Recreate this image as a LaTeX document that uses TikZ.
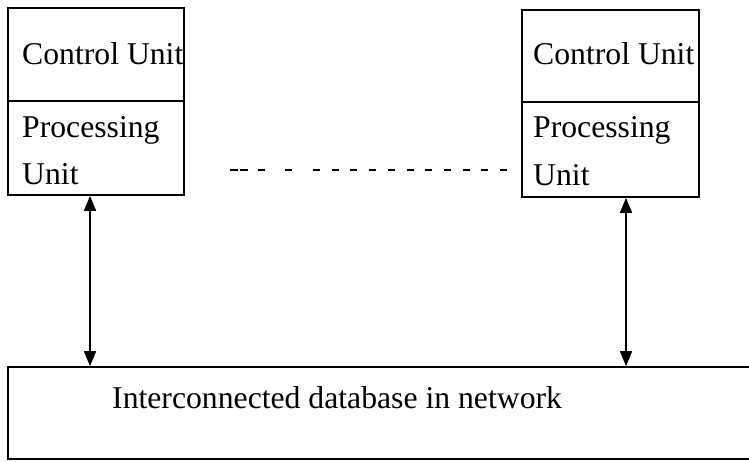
\documentclass[tikz,border=0pt]{standalone}
\usepackage{fontspec}
\setmainfont{Liberation Serif}
\usetikzlibrary{arrows.meta}
\begin{document}
\begin{tikzpicture}[x=1pt,y=-1pt,
  box/.style={draw=black, line width=1.7pt, inner sep=0pt},
  lbl/.style={anchor=base west, inner sep=0pt, font=\fontsize{31.7}{38}\selectfont},
  link/.style={line width=1.7pt, {Triangle[length=15pt,width=12pt]}-{Triangle[length=15pt,width=12pt]}},
  dashline/.style={line width=1.6pt}]
\useasboundingbox (0,0) rectangle (749,461);
% left processor
\node[box, minimum width=176pt, minimum height=93pt] (cu1) at (96,54.5) {};
\node[box, minimum width=176pt, minimum height=94pt] (pu1) at (96,148) {};
\node[lbl] (t1) at (22,64) {Control Unit};
\node[lbl] (t2) at (22,137) {Processing};
\node[lbl] (t3) at (22,184) {Unit};
% right processor
\node[box, minimum width=177pt, minimum height=92pt] (cu2) at (610.5,56) {};
\node[box, minimum width=177pt, minimum height=95pt] (pu2) at (610.5,149.5) {};
\node[lbl] (t4) at (533,64) {Control Unit};
\node[lbl] (t5) at (533,137) {Processing};
\node[lbl] (t6) at (533,185) {Unit};
% database
\node[box, minimum width=760pt, minimum height=92pt] (db) at (388,413) {};
\node[lbl] (t7) at (112,408) {Interconnected database in network};
% arrows
\draw[link] (pu1.south -| 90,0) -- (db.north -| 90,0);
\draw[link] (pu2.south -| 626,0) -- (db.north -| 626,0);
% dashed separator
\coordinate (d0) at (230,170);
\coordinate (d1) at (248,170);
\draw[dashline, dash pattern=on 8pt off 2pt] (d0) -- (d1);
\coordinate (d2) at (258,170);
\coordinate (d3) at (265,170);
\draw[dashline] (d2) -- (d3);
\coordinate (d4) at (285,170);
\coordinate (d5) at (292,170);
\draw[dashline] (d4) -- (d5);
\coordinate (d6) at (313,170);
\coordinate (d7) at (507,170);
\draw[dashline, dash pattern=on 7pt off 11.7pt] (d6) -- (d7);
\end{tikzpicture}
\end{document}
